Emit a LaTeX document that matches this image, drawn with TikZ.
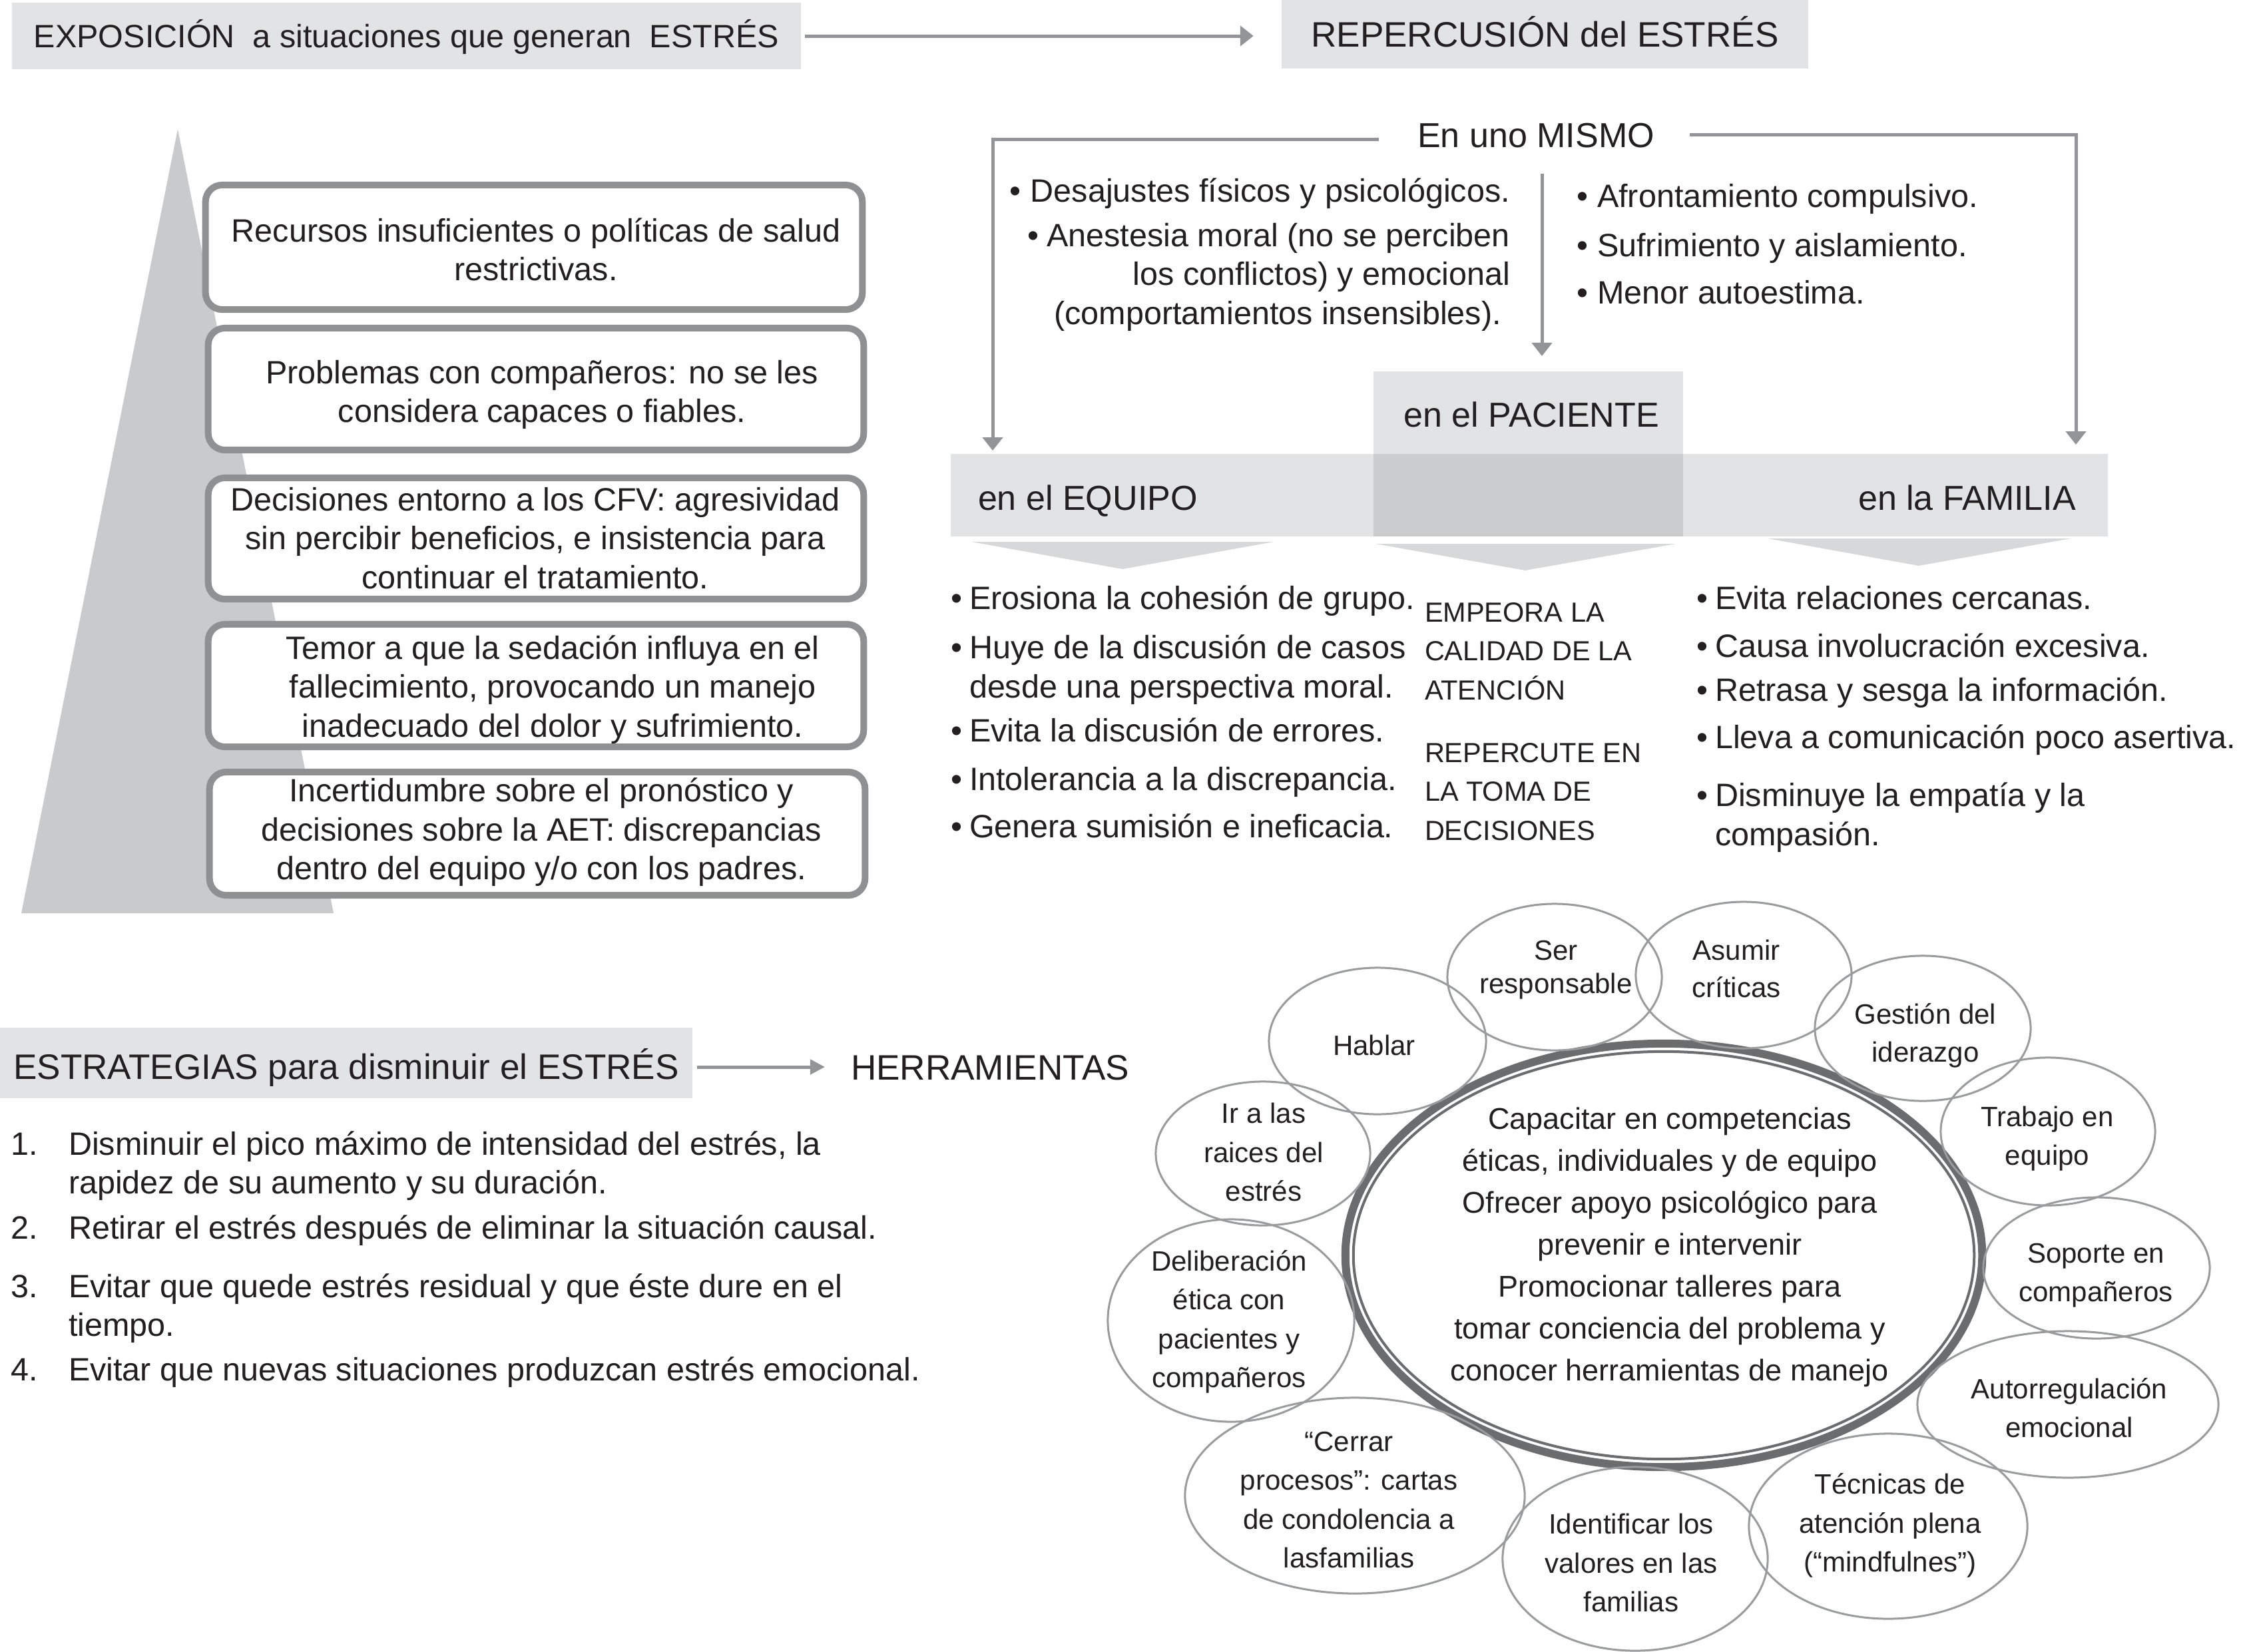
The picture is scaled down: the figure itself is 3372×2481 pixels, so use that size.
\documentclass[tikz,border=0pt]{standalone}
\usepackage{fontspec}
\setmainfont{Liberation Sans}
\usetikzlibrary{arrows.meta,shapes.geometric,calc}
\definecolor{hdr}{HTML}{E2E3E4}
\definecolor{dk}{HTML}{CBCCCE}
\definecolor{pyr}{HTML}{C9CACC}
\definecolor{chev}{HTML}{D7D8DA}
\definecolor{arrg}{HTML}{939497}
\definecolor{bord}{HTML}{8F9092}
\definecolor{elg}{HTML}{9A9B9D}
\definecolor{ringc}{HTML}{6B6C6E}
\definecolor{txt}{HTML}{231F20}
\newcommand\bu[1]{\makebox[#1][l]{\textbullet}}
\begin{document}
\begin{tikzpicture}[x=0.01cm,y=-0.01cm,
  every node/.style={text=txt, inner sep=0pt, outer sep=0pt},
  fb/.style={font=\fontsize{13.8}{16.5}\selectfont},
  fh/.style={font=\fontsize{15.1}{18}\selectfont},
  fl/.style={font=\fontsize{14.8}{18}\selectfont},
  fe/.style={font=\fontsize{11.95}{16.5}\selectfont},
  fc/.style={font=\fontsize{12.8}{17.9}\selectfont},
  fp/.style={font=\fontsize{11.8}{16.5}\selectfont},
  hbox/.style={fill=hdr},
  lbox/.style={draw=bord, fill=white, line width=0.1cm, rounded corners=0.25cm},
  ell/.style={ellipse, draw=elg, line width=0.03cm},
  arr/.style={draw=arrg, line width=0.05cm, -{Triangle[length=0.2cm,width=0.3cm]}},
  arrs/.style={draw=arrg, line width=0.05cm, -{Triangle[length=0.22cm,width=0.22cm]}}
]
\useasboundingbox (0,0) rectangle (3372,2481);
\fill[white] (0,0) rectangle (3372,2481);

% ---------- top headers
\node[hbox, fb, text height=9.94pt, text depth=0pt, minimum width=11.85cm, minimum height=1.0cm] (expo) at (610.5,54) {EXPOSICIÓN\ \ a situaciones que generan\ \ ESTRÉS};
\node[hbox, fh, text height=10.87pt, text depth=0pt, minimum width=7.91cm, minimum height=1.03cm] (repe) at (2320.5,51.5) {REPERCUSIÓN del ESTRÉS};
\draw[arr, shorten <=0.06cm, shorten >=0.42cm] (expo.east) -- (expo.east -| repe.west);

% ---------- pyramid and boxes
\fill[pyr] (267,194) -- (501,1372) -- (32,1372) -- cycle;
\node[lbox, minimum width=9.86cm, minimum height=1.87cm] (b1) at (802,371.5) {};
\node[lbox, minimum width=9.84cm, minimum height=1.83cm] (b2) at (805,584.5) {};
\node[lbox, minimum width=9.84cm, minimum height=1.82cm] (b3) at (805,809) {};
\node[lbox, minimum width=9.84cm, minimum height=1.84cm] (b4) at (805,1030) {};
\node[lbox, minimum width=9.84cm, minimum height=1.85cm] (b5) at (807,1252.5) {};
\node[fb, align=center, anchor=base] (t1) at (805,421.5) {Recursos insuficientes o políticas de salud\\restrictivas.};
\node[fb, align=center, anchor=base] (t2) at (814,634.5) {Problemas con compañeros: no se les\\considera capaces o fiables.};
\node[fb, align=center, anchor=base] (t3) at (804,884) {Decisiones entorno a los CFV: agresividad\\sin percibir beneficios, e insistencia para\\continuar el tratamiento.};
\node[fb, align=center, anchor=base] (t4) at (830,1107) {Temor a que la sedación influya en el\\fallecimiento, provocando un manejo\\inadecuado del dolor y sufrimiento.};
\node[fb, align=center, anchor=base] (t5) at (813,1321) {Incertidumbre sobre el pronóstico y\\decisiones sobre la AET: discrepancias\\dentro del equipo y/o con los padres.};

% ---------- repercusion block
\node[fill=hdr, minimum width=4.65cm, minimum height=2.48cm] (pacbox) at (2295.5,682) {};
\node[fill=hdr, minimum width=17.37cm, minimum height=1.24cm] (band) at (2296.5,744) {};
\node[fill=dk, minimum width=4.65cm, minimum height=1.24cm] (overl) at (2295.5,744) {};
\node[fl, text height=10.66pt, text depth=0pt] (pac) at (2300,623) {en el PACIENTE};
\node[fl, text height=10.66pt, text depth=0pt, anchor=west] (equ) at (1469,748) {en el EQUIPO};
\node[fl, text height=10.66pt, text depth=0pt, anchor=east] (fam) at (3118,748) {en la FAMILIA};
\fill[chev] (1459,814) -- (1913,814) -- (1686,855) -- cycle;
\fill[chev] (2066,817) -- (2517,817) -- (2291,857) -- cycle;
\fill[chev] (2655,809) -- (3110,809) -- (2882,850) -- cycle;

\node[fl, text height=10.66pt, text depth=0pt] (mismo) at (2307,203) {En uno MISMO};
\coordinate (eqin) at (1491,677);
\coordinate (fmin) at (3118,668);
\coordinate (mT) at (2316,261);
\draw[arr] ($(mismo.west)+(-58,6)$) -| (eqin);
\draw[arr] ($(mismo.east)+(53,-1)$) -| (fmin);
\draw[arr, shorten >=0.23cm] (mT) -- (mT |- pacbox.north);

\node[fb, anchor=base east] (m1) at (2268,303) {\bu{0.31cm}Desajustes físicos y psicológicos.};
\node[fb, anchor=base east, align=right] (m2) at (2268,487) {\bu{0.29cm}Anestesia moral (no se perciben\\los conflictos) y emocional\\(comportamientos insensibles).\hspace*{0.13cm}};
\node[fb, anchor=base west] (m3) at (2368,311) {\bu{0.31cm}Afrontamiento compulsivo.};
\node[fb, anchor=base west] (m4) at (2368,385) {\bu{0.31cm}Sufrimiento y aislamiento.};
\node[fb, anchor=base west] (m5) at (2368,456) {\bu{0.31cm}Menor autoestima.};

\node[fb, anchor=base west] (q1) at (1428,915) {\bu{0.28cm}Erosiona la cohesión de grupo.};
\node[fb, anchor=base west, align=left] (q2) at (1428,1048) {\bu{0.28cm}Huye de la discusión de casos\\\hspace*{0.28cm}desde una perspectiva moral.};
\node[fb, anchor=base west] (q3) at (1428,1114) {\bu{0.28cm}Evita la discusión de errores.};
\node[fb, anchor=base west] (q4) at (1428,1187) {\bu{0.28cm}Intolerancia a la discrepancia.};
\node[fb, anchor=base west] (q5) at (1428,1258) {\bu{0.28cm}Genera sumisión e ineficacia.};

\node[fp, anchor=base west, align=left] (p1) at (2140,1051) {EMPEORA LA\\CALIDAD DE LA\\ATENCIÓN};
\node[fp, anchor=base west, align=left] (p2) at (2140,1262) {REPERCUTE EN\\LA TOMA DE\\DECISIONES};

\node[fb, anchor=base west] (f1) at (2548,915) {\bu{0.28cm}Evita relaciones cercanas.};
\node[fb, anchor=base west] (f2) at (2548,987) {\bu{0.28cm}Causa involucración excesiva.};
\node[fb, anchor=base west] (f3) at (2548,1053) {\bu{0.28cm}Retrasa y sesga la información.};
\node[fb, anchor=base west] (f4) at (2548,1124) {\bu{0.28cm}Lleva a comunicación poco asertiva.};
\node[fb, anchor=base west, align=left] (f5) at (2548,1270) {\bu{0.28cm}Disminuye la empatía y la\\\hspace*{0.28cm}compasión.};

% ---------- strategies
\node[hbox, fh, text height=14.2pt, text depth=0pt, minimum width=10.4cm, minimum height=1.06cm] (estr) at (520,1597) {ESTRATEGIAS para disminuir el ESTRÉS};
\node[fh, text height=10.87pt, text depth=0pt, anchor=west] (herr) at (1278,1603) {HERRAMIENTAS};
\draw[arrs, shorten <=0.07cm, shorten >=0.39cm] (herr.west -| estr.east) -- (herr.west);

\node[fb, anchor=base west, align=left] (s1) at (17,1793) {\makebox[0.86cm][l]{1.}Disminuir el pico máximo de intensidad del estrés, la\\\hspace*{0.86cm}rapidez de su aumento y su duración.};
\node[fb, anchor=base west] (s2) at (17,1861) {\makebox[0.86cm][l]{2.}Retirar el estrés después de eliminar la situación causal.};
\node[fb, anchor=base west, align=left] (s3) at (17,2007) {\makebox[0.86cm][l]{3.}Evitar que quede estrés residual y que éste dure en el\\\hspace*{0.86cm}tiempo.};
\node[fb, anchor=base west] (s4) at (17,2074) {\makebox[0.86cm][l]{4.}Evitar que nuevas situaciones produzcan estrés emocional.};

% ---------- tools cluster
\node[ellipse, draw=ringc, line width=0.12cm, minimum width=9.56cm, minimum height=6.36cm] (ringo) at (2499,1886) {};
\node[ellipse, draw=ringc, line width=0.04cm, minimum width=9.32cm, minimum height=6.12cm] (ringi) at (2499,1886) {};
\node[fc, align=center, anchor=base] (cen) at (2508,2074) {Capacitar en competencias\\éticas, individuales y de equipo\\Ofrecer apoyo psicológico para\\prevenir e intervenir\\Promocionar talleres para\\tomar conciencia del problema y\\conocer herramientas de manejo};

\node[ell, minimum width=3.22cm, minimum height=2.2cm] (e1) at (2335,1468) {};
\node[ell, minimum width=3.24cm, minimum height=2.2cm] (e2) at (2619,1465) {};
\node[ell, minimum width=3.26cm, minimum height=2.2cm] (e3) at (2069,1564) {};
\node[ell, minimum width=3.24cm, minimum height=2.18cm] (e4) at (2888,1545) {};
\node[ell, minimum width=3.22cm, minimum height=2.16cm] (e5) at (1897,1733) {};
\node[ell, minimum width=3.22cm, minimum height=2.22cm] (e6) at (3076,1700) {};
\node[ell, minimum width=3.7cm, minimum height=3.04cm] (e7) at (1849,1984) {};
\node[ell, minimum width=3.4cm, minimum height=2.12cm] (e8) at (3149,1905) {};
\node[ell, minimum width=4.52cm, minimum height=2.2cm] (e9) at (3106,2110) {};
\node[ell, minimum width=5.1cm, minimum height=2.94cm] (e10) at (2035,2247) {};
\node[ell, minimum width=3.98cm, minimum height=2.76cm] (e11) at (2456,2342) {};
\node[ell, minimum width=4.18cm, minimum height=2.78cm] (e12) at (2836,2293) {};

\node[font=\fontsize{11.95}{14.2}\selectfont, align=center, anchor=base] (l1) at (2337,1492) {Ser\\responsable};
\node[font=\fontsize{11.95}{15.9}\selectfont, align=center, anchor=base] (l2) at (2608,1498) {Asumir\\críticas};
\node[fe, align=center, anchor=base] (l3) at (2064,1585) {Hablar};
\node[font=\fontsize{11.95}{16.2}\selectfont, align=center, anchor=base] (l4) at (2892,1595) {Gestión del\\iderazgo};
\node[fe, align=center, anchor=base] (l5) at (1898,1804) {Ir a las\\raices del\\estrés};
\node[fe, align=center, anchor=base] (l6) at (3075,1750) {Trabajo en\\equipo};
\node[fe, align=center, anchor=base] (l7) at (1846,2084) {Deliberación\\ética con\\pacientes y\\compañeros};
\node[fe, align=center, anchor=base] (l8) at (3148,1955) {Soporte en\\compañeros};
\node[fe, align=center, anchor=base] (l9) at (3108,2159) {Autorregulación\\emocional};
\node[fe, align=center, anchor=base] (l10) at (2026,2355) {“Cerrar\\procesos”: cartas\\de condolencia a\\lasfamilias};
\node[fe, align=center, anchor=base] (l11) at (2450,2421) {Identificar los\\valores en las\\familias};
\node[fe, align=center, anchor=base] (l12) at (2839,2361) {Técnicas de\\atención plena\\(“mindfulnes”)};
\end{tikzpicture}
\end{document}
